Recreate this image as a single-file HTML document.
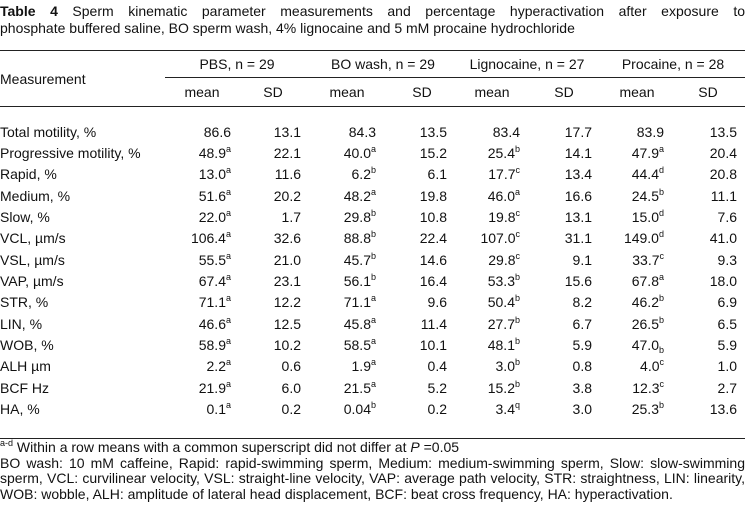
<!DOCTYPE html>
<html><head><meta charset="utf-8"><style>
body{margin:0;background:#fff;}
#t{position:relative;width:745px;height:508px;overflow:hidden;font-family:"Liberation Sans",Arial,sans-serif;font-size:14px;color:#111;}
.a{position:absolute;white-space:nowrap;line-height:16px;}
.r{position:absolute;height:1px;background:#222;}
sup{font-size:9px;vertical-align:0;position:relative;top:-6px;}
sub{font-size:9px;vertical-align:0;position:relative;top:3px;}
.j{position:absolute;left:0;width:745px;text-align:justify;text-align-last:justify;line-height:16px;white-space:nowrap;}
</style></head><body>
<div id="t">
<div class="j" style="top:3px"><b>Table 4</b> Sperm kinematic parameter measurements and percentage hyperactivation after exposure to</div>
<div class="a" style="top:20px;left:0">phosphate buffered saline, BO sperm wash, 4% lignocaine and 5 mM procaine hydrochloride</div>
<div class="r" style="top:50px;left:0;width:745px"></div>
<div class="r" style="top:77px;left:165px;width:580px"></div>
<div class="r" style="top:106px;left:0;width:745px"></div>
<div class="r" style="top:438px;left:0;width:745px"></div>
<div class="a" style="top:71px;left:0">Measurement</div>
<div class="a" style="top:439px;left:0"><sup>a-d</sup> Within a row means with a common superscript did not differ at <i>P</i> =0.05</div>
<div class="j" style="top:455px">BO wash: 10 mM caffeine, Rapid: rapid-swimming sperm, Medium: medium-swimming sperm, Slow: slow-swimming</div>
<div class="j" style="top:470px">sperm, VCL: curvilinear velocity, VSL: straight-line velocity, VAP: average path velocity, STR: straightness, LIN: linearity,</div>
<div class="a" style="top:486px;left:0">WOB: wobble, ALH: amplitude of lateral head displacement, BCF: beat cross frequency, HA: hyperactivation.</div>
</div>
<script>
const groups=["PBS, n = 29","BO wash, n = 29","Lignocaine, n = 27","Procaine, n = 28"];
const labels=["Total motility, %","Progressive motility, %","Rapid, %","Medium, %","Slow, %","VCL, µm/s","VSL, µm/s","VAP, µm/s","STR, %","LIN, %","WOB, %","ALH µm","BCF Hz","HA, %"];
const pbsMean=["86.6","48.9","13.0","51.6","22.0","106.4","55.5","67.4","71.1","46.6","58.9","2.2","21.9","0.1"];
const pbsSup=["","a","a","a","a","a","a","a","a","a","a","a","a","a"];
const pbsSD=["13.1","22.1","11.6","20.2","1.7","32.6","21.0","23.1","12.2","12.5","10.2","0.6","6.0","0.2"];
const boMean=["84.3","40.0","6.2","48.2","29.8","88.8","45.7","56.1","71.1","45.8","58.5","1.9","21.5","0.04"];
const boSup=["","a","b","a","b","b","b","b","a","a","a","a","a","b"];
const boSD=["13.5","15.2","6.1","19.8","10.8","22.4","14.6","16.4","9.6","11.4","10.1","0.4","5.2","0.2"];
const ligMean=["83.4","25.4","17.7","46.0","19.8","107.0","29.8","53.3","50.4","27.7","48.1","3.0","15.2","3.4"];
const ligSup=["","b","c","a","c","c","c","b","b","b","b","b","b","q"];
const ligSD=["17.7","14.1","13.4","16.6","13.1","31.1","9.1","15.6","8.2","6.7","5.9","0.8","3.8","3.0"];
const proMean=["83.9","47.9","44.4","24.5","15.0","149.0","33.7","67.8","46.2","26.5","47.0","4.0","12.3","25.3"];
const proSup=["","a","d","b","d","d","c","a","b","b","_b","c","c","b"];
const proSD=["13.5","20.4","20.8","11.1","7.6","41.0","9.3","18.0","6.9","6.5","5.9","1.0","2.7","13.6"];
const T=document.getElementById('t');
function add(txt,x,y,align,name){
  const d=document.createElement('div');
  d.className='a';
  
  
  d.innerHTML=txt;
  d.style.top=(y-8)+'px';
  if(align==='r'){d.style.right=(745-x)+'px';}
  else if(align==='c'){d.style.left=(x-70)+'px';d.style.width='140px';d.style.textAlign='center';}
  else d.style.left=x+'px';
  T.appendChild(d);
}
const gC=[237,383,527,673], mC=[202,347,492,637], sC=[273,422,564,708];
const mR=[231,376,520,664], sR=[301,447,592,737];
groups.forEach((g,i)=>{add(g,gC[i],64,'c','group-header');add('mean',mC[i],92,'c','mean-header');add('SD',sC[i],92,'c','sd-header');});
const means=[pbsMean,boMean,ligMean,proMean], sups=[pbsSup,boSup,ligSup,proSup], sds=[pbsSD,boSD,ligSD,proSD];
labels.forEach((l,r)=>{
  const y=131.5+r*21.35;
  add(l,0,y,'l','row-label');
  for(let g=0;g<4;g++){
    const s=sups[g][r];
    let suf='';
    if(s&&s[0]==='_') suf='<sub>'+s.slice(1)+'</sub>';
    else if(s) suf='<sup>'+s+'</sup>';
    add(means[g][r]+suf,mR[g],y,'r','mean-value');
    add(sds[g][r],sR[g],y,'r','sd-value');
  }
});
</script>
</body></html>
